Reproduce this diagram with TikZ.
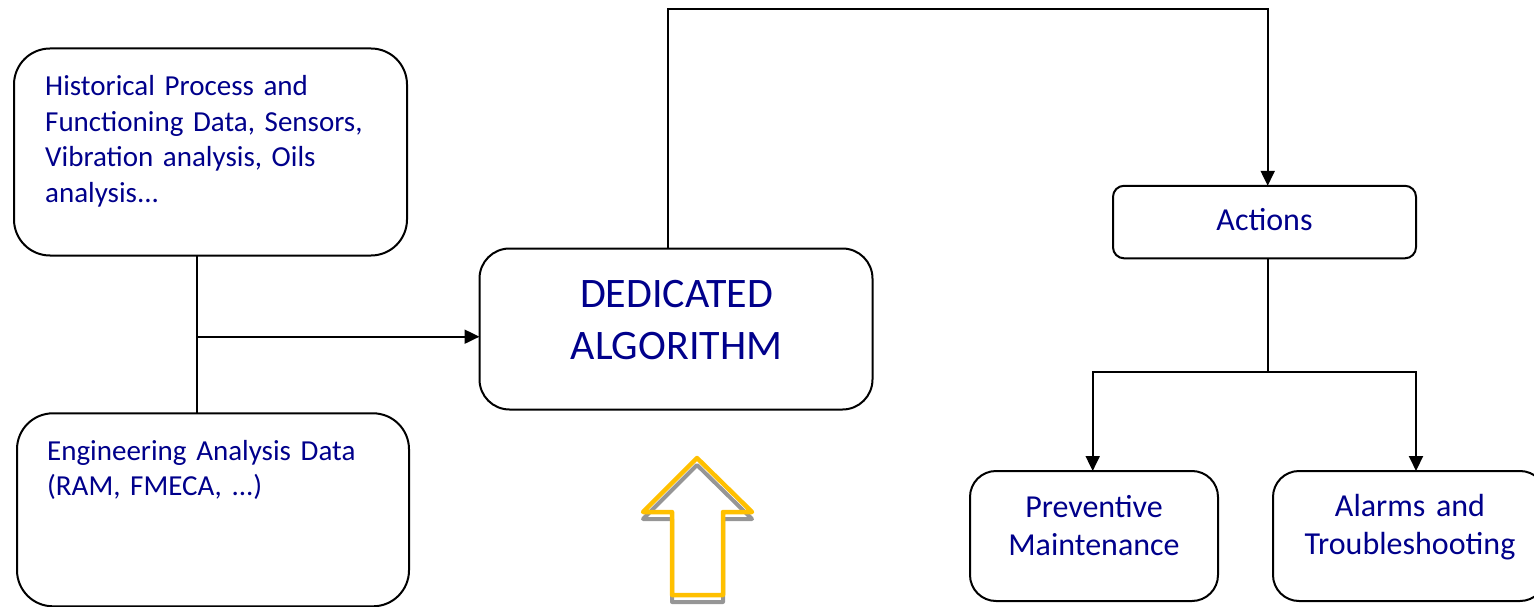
\documentclass[tikz,border=0pt]{standalone}
\usepackage{fontspec}
\setmainfont{Carlito}[WordSpace=0.85]
\usetikzlibrary{arrows.meta}
\definecolor{navytxt}{RGB}{0,0,139}
\definecolor{arrowyellow}{RGB}{255,192,0}
\tikzset{
  box/.style={draw, line width=2pt, inner sep=0pt, outer sep=0pt, anchor=north west},
  conn/.style={line width=2pt},
  arr/.style={line width=2pt, -{Triangle[length=15pt,width=14pt]}},
  lefttxt/.style={text=navytxt, font=\fontsize{29}{35.4}\selectfont, anchor=base west, inner sep=0pt, text width=380pt, align=left},
  midtxt/.style={text=navytxt, font=\fontsize{32}{38}\selectfont, anchor=base, inner sep=0pt, text width=300pt, align=center},
  bigtxt/.style={text=navytxt, font=\fontsize{42}{52}\selectfont, anchor=base, inner sep=0pt, text width=380pt, align=center},
}
\begin{document}
\begin{tikzpicture}[x=1pt,y=-1pt]
\useasboundingbox (0,0) rectangle (1534,607);
% boxes
\node[box, minimum width=393pt, minimum height=207pt, rounded corners=36pt] (hist) at (14,48.5) {};
\node[box, minimum width=392pt, minimum height=193pt, rounded corners=36pt] (eng) at (17,413.3) {};
\node[box, minimum width=393pt, minimum height=161pt, rounded corners=30pt] (alg) at (479.5,248.5) {};
\node[box, minimum width=303pt, minimum height=72.5pt, rounded corners=11pt] (act) at (1113,185.8) {};
\node[box, minimum width=248pt, minimum height=130pt, rounded corners=26pt] (prev) at (970,471) {};
\node[box, minimum width=273pt, minimum height=130pt, rounded corners=26pt] (alr) at (1273,471) {};
% texts
\node[lefttxt] (histtxt) at (45,96) {Historical Process and\\Functioning Data, Sensors,\\Vibration analysis, Oils\\analysis...};
\node[lefttxt] (engtxt) at (47,460) {Engineering Analysis Data\\(RAM, FMECA, ...)};
\node[bigtxt] (algtxt) at (676.5,307) {DEDICATED\\ALGORITHM};
\node[midtxt] (acttxt) at (1264.5,230.7) {Actions};
\node[midtxt] (prevtxt) at (1094,517) {Preventive\\Maintenance};
\node[midtxt] (alrtxt) at (1410,516.7) {Alarms and\\Troubleshooting};
% connectors
\coordinate (j) at (197,336.7);
\draw[conn] (hist.south -| j) -- (eng.north -| j);
\draw[arr] (j) -- (j -| alg.west);
\coordinate (t1) at (667.5,9.5);
\coordinate (t2) at (1267.7,9.5);
\draw[arr] (alg.north -| t1) -- (t1) -- (t2) -- (t2 |- act.north);
\coordinate (b) at (1267.7,371.7);
\coordinate (bl) at (1092.7,371.7);
\coordinate (br) at (1416,371.7);
\draw[conn] (act.south -| b) -- (b);
\draw[arr] (b) -- (bl) -- (bl |- prev.north);
\draw[arr] (b) -- (br) -- (br |- alr.north);
% yellow outline arrow with shadow
\draw[line width=4pt, black!55, opacity=0.75, line join=round, yshift=-7pt]
  (697,458) -- (752,512) -- (723,512) -- (723,595) -- (672,595) -- (672,512) -- (643,512) -- cycle;
\draw[line width=4.5pt, arrowyellow, line join=round]
  (697,458) -- (752,512) -- (723,512) -- (723,595) -- (672,595) -- (672,512) -- (643,512) -- cycle;
\end{tikzpicture}
\end{document}
